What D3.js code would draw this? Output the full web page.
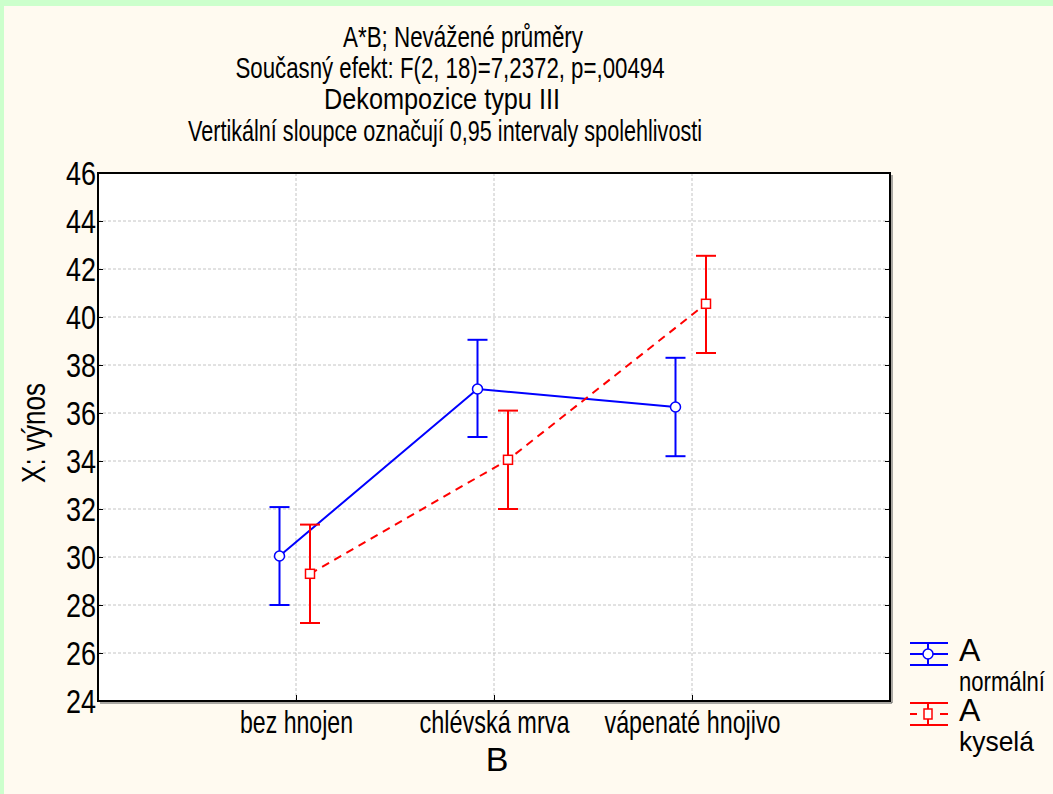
<!DOCTYPE html>
<html>
<head>
<meta charset="utf-8">
<script src="https://cdn.jsdelivr.net/npm/d3@7"></script>
<style>
  body { margin: 0; background: #ccffcc; }
  text { font-family: "Liberation Sans", Arial, sans-serif; fill: #000; }
</style>
</head>
<body>
<div id="container"></div>
<script>
// DATA ###############################
const categories = ["bez hnojen", "chlévská mrva", "vápenaté hnojivo"];
const seriesNames = ["normální", "kyselá"];
const meanNormal = [30.04, 37.0, 36.25];
const lowNormal = [28.0, 35.0, 34.2];
const highNormal = [32.08, 39.05, 38.3];
const meanKysela = [29.3, 34.05, 40.55];
const lowKysela = [27.25, 32.0, 38.5];
const highKysela = [31.35, 36.1, 42.55];
const yTicks = [24, 26, 28, 30, 32, 34, 36, 38, 40, 42, 44, 46];
const titleLines = [
  "A*B; Nevážené průměry",
  "Současný efekt: F(2, 18)=7,2372, p=,00494",
  "Dekompozice typu III",
  "Vertikální sloupce označují 0,95 intervaly spolehlivosti"
];

// CONSTANTS ###############################
const width = 1053, height = 794;
const plot = { left: 98, right: 890, top: 173, bottom: 701 };

const series = [
  { name: seriesNames[0], mean: meanNormal, low: lowNormal, high: highNormal, color: "#0000ff", offset: -16.5, dash: null, marker: "circle" },
  { name: seriesNames[1], mean: meanKysela, low: lowKysela, high: highKysela, color: "#ff0000", offset: 14, dash: "8,6", marker: "square" }
];

// squeeze a text element horizontally to a target width
function squeeze(sel, w) {
  sel.each(function () {
    const t = d3.select(this);
    const natural = this.getComputedTextLength();
    const x = +t.attr("x") || 0, y = +t.attr("y") || 0;
    t.attr("x", null).attr("y", null)
      .attr("transform", `translate(${x},${y}) scale(${w / natural},1)`);
  });
}

// SCALES ----------------------------------
const xScale = d3.scalePoint()
  .domain(categories)
  .range([plot.left, plot.right])
  .padding(1);

const yScale = d3.scaleLinear()
  .domain([24, 46])
  .range([plot.bottom, plot.top]);

// DRAW ###############################
const svg = d3.select("#container")
  .append("svg")
  .attr("width", width)
  .attr("height", height);

// background panel
svg.append("rect")
  .attr("x", 4).attr("y", 6)
  .attr("width", width - 4).attr("height", height - 6)
  .attr("fill", "#fffaf0");

// plot area
svg.append("rect")
  .attr("x", plot.left).attr("y", plot.top)
  .attr("width", plot.right - plot.left).attr("height", plot.bottom - plot.top)
  .attr("fill", "#ffffff");

// grid
svg.selectAll("line.hgrid")
  .data(yTicks.slice(1, -1))
  .join("line")
  .attr("class", "hgrid")
  .attr("x1", plot.left).attr("x2", plot.right)
  .attr("y1", d => yScale(d)).attr("y2", d => yScale(d))
  .attr("stroke", "#c4c4c4")
  .attr("stroke-dasharray", "3,2");

svg.selectAll("line.vgrid")
  .data(categories)
  .join("line")
  .attr("class", "vgrid")
  .attr("x1", d => xScale(d)).attr("x2", d => xScale(d))
  .attr("y1", plot.top).attr("y2", plot.bottom)
  .attr("stroke", "#c4c4c4")
  .attr("stroke-dasharray", "3,2");

// AXES ---------------------------------
const yAxis = svg.append("g")
  .attr("transform", `translate(${plot.left},0)`)
  .call(d3.axisLeft(yScale).tickValues(yTicks).tickSize(-5).tickPadding(3));

yAxis.select(".domain").remove();
yAxis.selectAll("line").attr("stroke", "#000");
yAxis.selectAll("text")
  .attr("font-size", 33)
  .attr("font-family", "Liberation Sans, Arial, sans-serif")
  .attr("textLength", 30)
  .attr("lengthAdjust", "spacingAndGlyphs")
  .attr("x", -2)
  .attr("dy", "0.36em");

const yAxisR = svg.append("g")
  .attr("transform", `translate(${plot.right},0)`)
  .call(d3.axisRight(yScale).tickValues(yTicks).tickSize(-5).tickFormat(""));
yAxisR.select(".domain").remove();
yAxisR.selectAll("line").attr("stroke", "#000");

const xAxis = svg.append("g")
  .attr("transform", `translate(0,${plot.bottom})`)
  .call(d3.axisBottom(xScale).tickSize(-6).tickPadding(4));

xAxis.select(".domain").remove();
xAxis.selectAll("line").attr("stroke", "#000");
const xLabelWidths = [113, 150, 176];
xAxis.selectAll("text")
  .attr("font-size", 32)
  .attr("font-family", "Liberation Sans, Arial, sans-serif")
  .attr("textLength", (d, i) => xLabelWidths[i])
  .attr("lengthAdjust", "spacingAndGlyphs")
  .attr("y", 32)
  .attr("dy", 0);

// plot frame with a slight shadow on right/bottom
svg.append("path")
  .attr("d", `M${plot.right + 2},${plot.top + 2}V${plot.bottom + 2}H${plot.left + 2}`)
  .attr("fill", "none")
  .attr("stroke", "#555")
  .attr("stroke-width", 1);
svg.append("rect")
  .attr("x", plot.left).attr("y", plot.top)
  .attr("width", plot.right - plot.left).attr("height", plot.bottom - plot.top)
  .attr("fill", "none")
  .attr("stroke", "#000")
  .attr("stroke-width", 2);

// TITLES ---------------------------------
const titleX = [463, 450, 442, 445];
const titleY = [47, 78, 109, 141];
const titleW = [240, 429, 236, 514];
svg.selectAll("text.title")
  .data(titleLines)
  .join("text")
  .attr("class", "title")
  .attr("x", (d, i) => titleX[i])
  .attr("y", (d, i) => titleY[i])
  .attr("text-anchor", "middle")
  .attr("font-size", 30)
  .attr("textLength", (d, i) => titleW[i])
  .attr("lengthAdjust", "spacingAndGlyphs")
  .text(d => d);

svg.append("text")
  .attr("transform", `translate(45,${(plot.top + plot.bottom) / 2 - 4}) rotate(-90)`)
  .attr("text-anchor", "middle")
  .attr("font-size", 34)
  .attr("textLength", 100)
  .attr("lengthAdjust", "spacingAndGlyphs")
  .text("X: výnos");

svg.append("text")
  .attr("x", 497).attr("y", 771)
  .attr("text-anchor", "middle")
  .attr("font-size", 34)
  .text("B");

// SERIES ---------------------------------
const line = d3.line()
  .x(d => d.x)
  .y(d => d.y);

series.forEach(s => {
  const pts = categories.map((c, i) => ({
    x: xScale(c) + s.offset,
    y: yScale(s.mean[i]),
    lo: yScale(s.low[i]),
    hi: yScale(s.high[i])
  }));

  const g = svg.append("g");

  g.append("path")
    .datum(pts)
    .attr("d", line)
    .attr("fill", "none")
    .attr("stroke", s.color)
    .attr("stroke-width", 2)
    .attr("stroke-dasharray", s.dash);

  // error bars
  g.selectAll("line.err")
    .data(pts)
    .join("line")
    .attr("class", "err")
    .attr("x1", d => d.x).attr("x2", d => d.x)
    .attr("y1", d => d.lo).attr("y2", d => d.hi)
    .attr("stroke", s.color).attr("stroke-width", 2);

  g.selectAll("line.capHi")
    .data(pts)
    .join("line")
    .attr("class", "capHi")
    .attr("x1", d => d.x - 10).attr("x2", d => d.x + 10)
    .attr("y1", d => d.hi).attr("y2", d => d.hi)
    .attr("stroke", s.color).attr("stroke-width", 2);

  g.selectAll("line.capLo")
    .data(pts)
    .join("line")
    .attr("class", "capLo")
    .attr("x1", d => d.x - 10).attr("x2", d => d.x + 10)
    .attr("y1", d => d.lo).attr("y2", d => d.lo)
    .attr("stroke", s.color).attr("stroke-width", 2);

  if (s.marker === "circle") {
    g.selectAll("circle")
      .data(pts)
      .join("circle")
      .attr("cx", d => d.x).attr("cy", d => d.y)
      .attr("r", 5)
      .attr("fill", "#fff")
      .attr("stroke", s.color).attr("stroke-width", 1.5);
  } else {
    g.selectAll("rect")
      .data(pts)
      .join("rect")
      .attr("x", d => d.x - 4.5).attr("y", d => d.y - 4.5)
      .attr("width", 9).attr("height", 9)
      .attr("fill", "#fff")
      .attr("stroke", s.color).attr("stroke-width", 1.5);
  }
});

// LEGEND ---------------------------------
const legendY = [654, 714];
const legendW = [86, 75];
series.forEach((s, i) => {
  const cy = legendY[i];
  const lg = svg.append("g").attr("stroke", s.color).attr("stroke-width", 2).attr("fill", "none");
  lg.append("line").attr("x1", 910).attr("x2", 948).attr("y1", cy - 11).attr("y2", cy - 11);
  lg.append("line").attr("x1", 910).attr("x2", 948).attr("y1", cy + 11).attr("y2", cy + 11);
  lg.append("line").attr("x1", 928).attr("x2", 928).attr("y1", cy - 11).attr("y2", cy + 11);
  if (s.marker === "circle") {
    lg.append("line").attr("x1", 910).attr("x2", 948).attr("y1", cy).attr("y2", cy);
    lg.append("circle").attr("cx", 928).attr("cy", cy).attr("r", 5)
      .attr("fill", "#fff").attr("stroke-width", 1.5);
  } else {
    lg.append("line").attr("x1", 910).attr("x2", 917).attr("y1", cy).attr("y2", cy);
    lg.append("line").attr("x1", 940).attr("x2", 948).attr("y1", cy).attr("y2", cy);
    lg.append("rect").attr("x", 924).attr("y", cy - 5).attr("width", 8).attr("height", 10)
      .attr("fill", "#fff").attr("stroke-width", 1.5);
  }
  svg.append("text")
    .attr("x", 959).attr("y", cy + 7)
    .attr("font-size", 32)
    .text("A");
  svg.append("text")
    .attr("x", 959).attr("y", cy + 37)
    .attr("font-size", 28)
    .text(s.name)
    .call(squeeze, legendW[i]);
});
</script>
</body>
</html>
